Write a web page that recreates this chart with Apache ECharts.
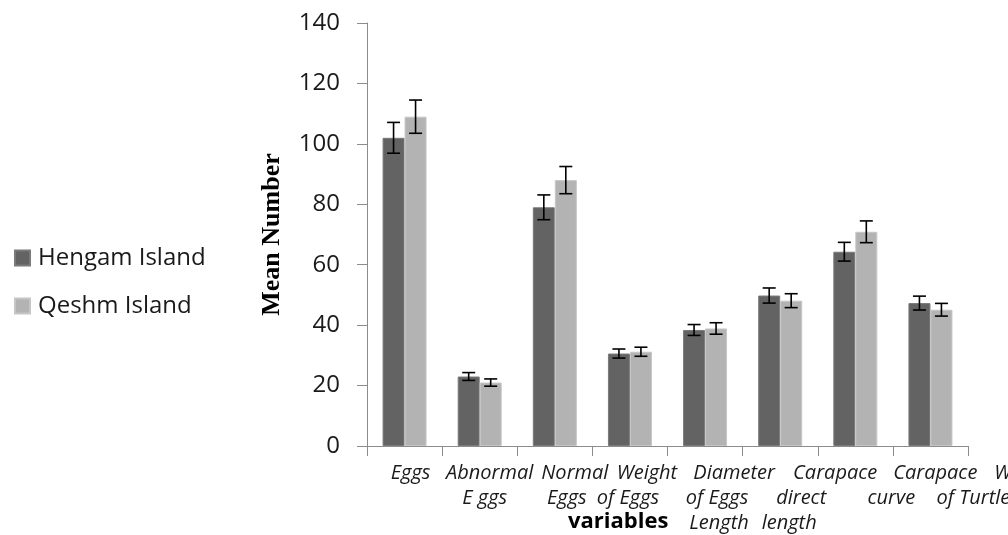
<!DOCTYPE html>
<html>
<head>
<meta charset="utf-8">
<script src="https://cdn.jsdelivr.net/npm/echarts@6/dist/echarts.min.js"></script>
<style>
html,body{margin:0;padding:0;background:#fff;}
#chart{width:1008px;height:535px;}
</style>
</head>
<body>
<div id="chart"></div>
<script>
// ---- data ----
const categories = ['Eggs', 'Abnormal\nE ggs', 'Normal\nEggs', 'Weight\nof Eggs', 'Diameter\nof Eggs\nLength', 'Carapace\ndirect\nlength', 'Carapace\ncurve', 'Weight\nof Turtle'];
const hengam = [102, 23, 79, 30.6, 38.4, 49.8, 64.3, 47.3];
const hengamErr = [5.1, 1.3, 4.1, 1.5, 1.8, 2.5, 3.1, 2.3];
const qeshm = [109, 21, 88, 31.2, 38.9, 48.1, 70.9, 45.1];
const qeshmErr = [5.5, 1.2, 4.5, 1.5, 1.9, 2.3, 3.6, 2.1];
const yTicks = [0, 20, 40, 60, 80, 100, 120, 140];

// ---- styling ----
const BAR_W = 22;
const sans = 'Open Sans';
// horizontal drift (px) of each label line as typeset in the original figure
const labelStyleShift = [[6], [10, 5], [20, 12], [17, -2], [29, 12, 14], [55, 21, 9], [80, 36], [94, 43]];

const rich = {};
labelStyleShift.forEach((lines, i) => {
  lines.forEach((d, j) => {
    rich['s' + i + '_' + j] = {
      fontFamily: sans, fontStyle: 'italic', fontSize: 20, lineHeight: 25, color: '#1a1a1a',
      padding: d >= 0 ? [0, 0, 0, 2 * d] : [0, -2 * d, 0, 0]
    };
  });
});

function errSeries(vals, errs, side) {
  return {
    type: 'custom',
    z: 10,
    silent: true,
    data: vals.map((v, i) => [i, v - errs[i], v + errs[i]]),
    renderItem: function (params, api) {
      const i = api.value(0);
      const lo = api.coord([i, api.value(1)]);
      const hi = api.coord([i, api.value(2)]);
      const x = lo[0] + side * BAR_W / 2;
      const cap = 6.5;
      const style = { stroke: '#000', lineWidth: 1.6 };
      return {
        type: 'group',
        children: [
          { type: 'line', shape: { x1: x, y1: lo[1], x2: x, y2: hi[1] }, style: style },
          { type: 'line', shape: { x1: x - cap, y1: lo[1], x2: x + cap, y2: lo[1] }, style: style },
          { type: 'line', shape: { x1: x - cap, y1: hi[1], x2: x + cap, y2: hi[1] }, style: style }
        ]
      };
    }
  };
}

const chart = echarts.init(document.getElementById('chart'));
chart.setOption({
  animation: false,
  backgroundColor: '#ffffff',
  grid: { left: 367, right: 40, top: 23, bottom: 89, containLabel: false, outerBoundsMode: 'none' },
  legend: {
    orient: 'vertical',
    left: 9,
    top: 241,
    itemWidth: 15,
    itemHeight: 15,
    itemGap: 24,
    icon: 'rect',
    data: ['Hengam Island', 'Qeshm Island'],
    textStyle: { fontFamily: sans, fontSize: 24, color: '#1a1a1a', padding: [0, 0, 0, 3] }
  },
  graphic: [{
    type: 'text',
    left: 568,
    top: 511,
    style: { text: 'variables', fontFamily: sans, fontWeight: 'bold', fontSize: 22, fill: '#000' }
  }],
  xAxis: {
    type: 'category',
    data: categories,
    boundaryGap: true,
    axisLine: { lineStyle: { color: '#8c8c8c', width: 1 } },
    axisTick: { show: true, length: 10, lineStyle: { color: '#8c8c8c' } },
    axisLabel: {
      interval: 0,
      margin: 15,
      fontFamily: sans,
      fontStyle: 'italic',
      fontSize: 20,
      lineHeight: 25,
      color: '#1a1a1a',
      align: 'center',
      rich: rich,
      formatter: function (value, index) {
        return value.split('\n').map((line, j) => '{s' + index + '_' + j + '|' + line + '}').join('\n');
      }
    }
  },
  yAxis: {
    type: 'value',
    min: 0,
    max: 140,
    interval: 20,
    name: 'Mean Number',
    nameLocation: 'middle',
    nameGap: 82,
    nameRotate: 90,
    nameTextStyle: { fontFamily: 'Liberation Serif', fontWeight: 'bold', fontSize: 26, color: '#000' },
    axisLine: { show: true, lineStyle: { color: '#8c8c8c', width: 1 } },
    axisTick: { show: true, length: 10, lineStyle: { color: '#8c8c8c' } },
    splitLine: { show: false },
    axisLabel: {
      margin: 27,
      fontFamily: sans,
      fontSize: 24,
      color: '#1a1a1a',
      formatter: function (v) { return yTicks.indexOf(v) >= 0 ? String(v) : ''; }
    }
  },
  series: [
    {
      name: 'Hengam Island',
      type: 'bar',
      data: hengam,
      barWidth: BAR_W,
      barGap: '0%',
      itemStyle: { color: '#636363', borderColor: '#7a7a7a', borderWidth: 1 }
    },
    {
      name: 'Qeshm Island',
      type: 'bar',
      data: qeshm,
      barWidth: BAR_W,
      itemStyle: { color: '#b3b3b3', borderColor: '#c6c6c6', borderWidth: 1 }
    },
    errSeries(hengam, hengamErr, -1),
    errSeries(qeshm, qeshmErr, 1)
  ]
});
</script>
</body>
</html>
